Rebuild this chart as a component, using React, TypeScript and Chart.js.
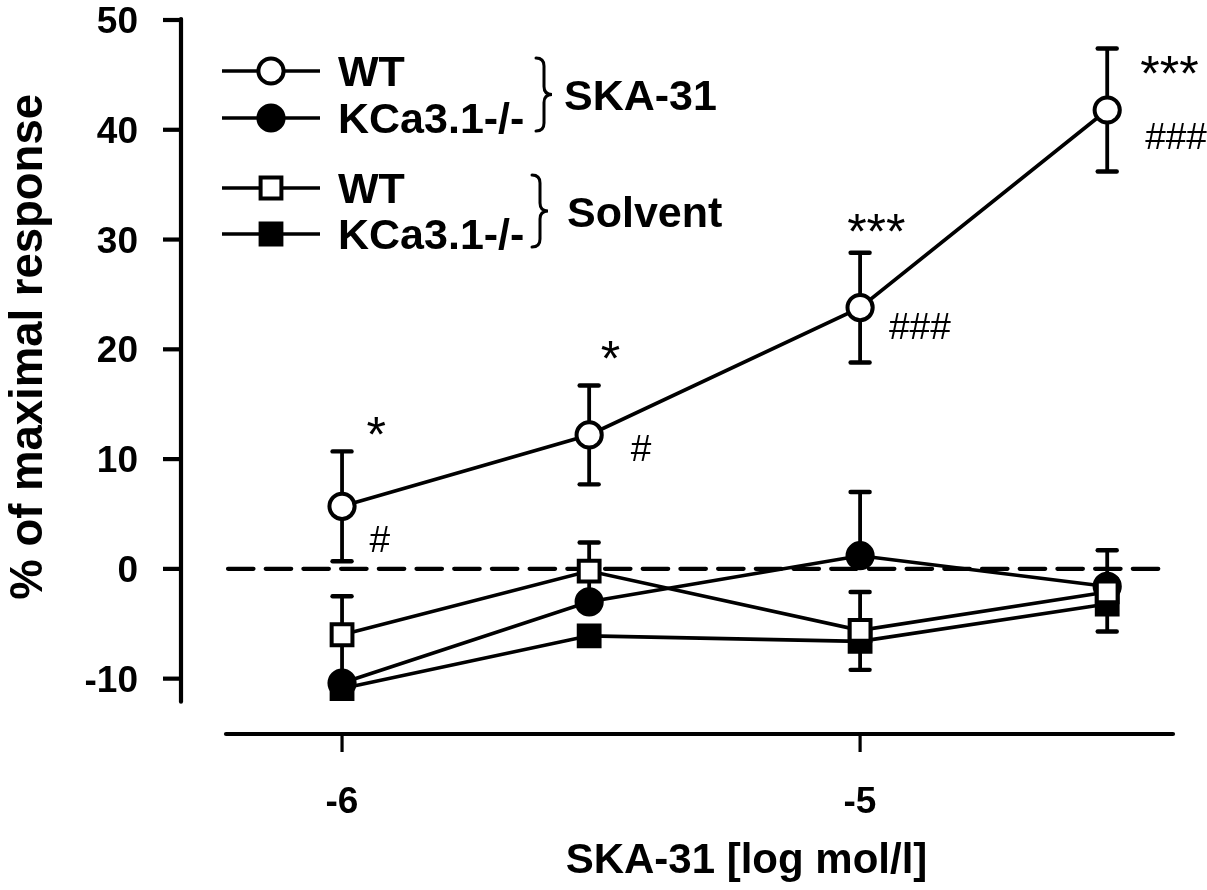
import React, { useEffect, useRef } from 'react';
import { Chart, registerables } from 'chart.js';

Chart.register(...registerables);

// SKA-31 concentrations (log mol/l): 1, 3, 10, 30 µmol/l
const doseLog = [-6, -5.523, -5, -4.523];

// Relaxation, % of maximal response (mean and SEM)
const wtSka = [5.7, 12.2, 23.8, 41.8];
const wtSkaSem = [5.0, 4.5, 5.0, 5.6];
const koSka = [-10.4, -3.0, 1.2, -1.6];
const koSkaSem = [3.5, 2.0, 5.8, 3.3];
const wtSolvent = [-6.0, -0.2, -5.6, -2.1];
const wtSolventSem = [3.5, 2.6, 3.5, 1.2];
const koSolvent = [-10.9, -6.1, -6.6, -3.2];
const koSolventSem = [0.8, 0.8, 2.6, 2.5];

// Significance marks for WT + SKA-31
const vsSolvent = ['*', '*', '***', '***'];
const vsKnockout = ['#', '#', '###', '###'];

const yTicks = [-10, 0, 10, 20, 30, 40, 50];
const xTicks = [-6, -5];

const FONT = "'Liberation Sans', Arial, sans-serif";

type ErrDir = 'up' | 'down' | 'both';

interface SeriesDef {
  label: string;
  values: number[];
  sem: number[];
  dir: ErrDir;
  shape: 'circle' | 'rect';
  filled: boolean;
}

const series: SeriesDef[] = [
  { label: 'WT', values: wtSka, sem: wtSkaSem, dir: 'both', shape: 'circle', filled: false },
  { label: 'WT', values: wtSolvent, sem: wtSolventSem, dir: 'up', shape: 'rect', filled: false },
  { label: 'KCa3.1-/-', values: koSka, sem: koSkaSem, dir: 'up', shape: 'circle', filled: true },
  { label: 'KCa3.1-/-', values: koSolvent, sem: koSolventSem, dir: 'down', shape: 'rect', filled: true },
];

// label offsets (px) from the WT + SKA-31 symbols
const starOffset = [[34, -80], [21, -85], [16, -85], [62, -45]];
const hashOffset = [[38, 33], [52, 13], [60, 18], [69, 26]];

const CIRCLE_R = 12.6;
const RECT_HALF = 10.4;
const MARKER_STROKE = 4;

function drawMarker(ctx: CanvasRenderingContext2D, x: number, y: number, shape: string, filled: boolean) {
  ctx.save();
  ctx.lineWidth = MARKER_STROKE;
  ctx.strokeStyle = '#000';
  ctx.fillStyle = filled ? '#000' : '#fff';
  ctx.beginPath();
  if (shape === 'circle') {
    ctx.arc(x, y, CIRCLE_R, 0, Math.PI * 2);
  } else {
    ctx.rect(x - RECT_HALF, y - RECT_HALF, RECT_HALF * 2, RECT_HALF * 2);
  }
  ctx.fill();
  ctx.stroke();
  ctx.restore();
}

function drawBrace(ctx: CanvasRenderingContext2D, x: number, top: number, bottom: number, w: number) {
  const mid = (top + bottom) / 2;
  const r = w / 2;
  ctx.save();
  ctx.lineWidth = 3;
  ctx.strokeStyle = '#000';
  ctx.lineCap = 'round';
  ctx.beginPath();
  ctx.moveTo(x, top);
  ctx.quadraticCurveTo(x + r, top, x + r, top + r);
  ctx.lineTo(x + r, mid - r);
  ctx.quadraticCurveTo(x + r, mid, x + w, mid);
  ctx.quadraticCurveTo(x + r, mid, x + r, mid + r);
  ctx.lineTo(x + r, bottom - r);
  ctx.quadraticCurveTo(x + r, bottom, x, bottom);
  ctx.stroke();
  ctx.restore();
}

// draws text with its inked box centred on (cx, cy)
function centeredText(ctx: CanvasRenderingContext2D, text: string, cx: number, cy: number) {
  ctx.textAlign = 'left';
  ctx.textBaseline = 'alphabetic';
  const m = ctx.measureText(text);
  const asc = m.actualBoundingBoxAscent;
  const desc = m.actualBoundingBoxDescent;
  const left = m.actualBoundingBoxLeft;
  const right = m.actualBoundingBoxRight;
  ctx.fillText(text, cx - (right - left) / 2, cy + (asc - desc) / 2);
}

// draws text left-aligned at x with its inked box vertically centred on cy
function leftText(ctx: CanvasRenderingContext2D, text: string, x: number, cy: number) {
  ctx.textAlign = 'left';
  ctx.textBaseline = 'alphabetic';
  const m = ctx.measureText(text);
  ctx.fillText(text, x, cy + (m.actualBoundingBoxAscent - m.actualBoundingBoxDescent) / 2);
}

const framePlugin = {
  id: 'frame',
  beforeDatasetsDraw(chart: any) {
    const ctx: CanvasRenderingContext2D = chart.ctx;
    const xs = chart.scales.x;
    const ys = chart.scales.y;
    const area = chart.chartArea;

    // zero reference line
    ctx.save();
    ctx.strokeStyle = '#000';
    ctx.lineWidth = 4.2;
    ctx.lineCap = 'round';
    ctx.setLineDash([25.5, 12.2]);
    ctx.beginPath();
    const y0 = ys.getPixelForValue(0);
    ctx.moveTo(area.left + 2, y0);
    ctx.lineTo(area.right - 3, y0);
    ctx.stroke();
    ctx.restore();

    // error bars
    ctx.save();
    ctx.strokeStyle = '#000';
    series.forEach((s) => {
      s.values.forEach((v, i) => {
        const x = xs.getPixelForValue(doseLog[i]);
        const yc = ys.getPixelForValue(v);
        const ends: number[] = [];
        if (s.dir !== 'down') ends.push(ys.getPixelForValue(v + s.sem[i]));
        if (s.dir !== 'up') ends.push(ys.getPixelForValue(v - s.sem[i]));
        ends.forEach((ye) => {
          ctx.lineWidth = 3.8;
          ctx.lineCap = 'butt';
          ctx.beginPath();
          ctx.moveTo(x, yc);
          ctx.lineTo(x, ye);
          ctx.stroke();
          ctx.lineWidth = 4.4;
          ctx.lineCap = 'round';
          ctx.beginPath();
          ctx.moveTo(x - 9.5, ye);
          ctx.lineTo(x + 9.5, ye);
          ctx.stroke();
        });
      });
    });
    ctx.restore();
  },
  afterDraw(chart: any) {
    const ctx: CanvasRenderingContext2D = chart.ctx;
    const xs = chart.scales.x;
    const ys = chart.scales.y;
    const area = chart.chartArea;

    ctx.save();
    ctx.strokeStyle = '#000';
    ctx.fillStyle = '#000';

    // y axis, set off to the left of the plot
    const yAxisX = area.left - 45;
    ctx.lineWidth = 4.2;
    ctx.lineCap = 'round';
    ctx.beginPath();
    ctx.moveTo(yAxisX, ys.getPixelForValue(ys.max) - 1);
    ctx.lineTo(yAxisX, area.bottom);
    ctx.stroke();
    ctx.lineCap = 'butt';
    ctx.font = `bold 37px ${FONT}`;
    yTicks.forEach((t) => {
      const py = ys.getPixelForValue(t);
      ctx.beginPath();
      ctx.moveTo(yAxisX - 18, py);
      ctx.lineTo(yAxisX + 2, py);
      ctx.stroke();
      const label = String(t);
      ctx.textAlign = 'right';
      ctx.textBaseline = 'alphabetic';
      const m = ctx.measureText(label);
      ctx.fillText(label, yAxisX - 43, py + (m.actualBoundingBoxAscent - m.actualBoundingBoxDescent) / 2);
    });

    // x axis, set off below the plot
    const xAxisY = area.bottom + 32.3;
    ctx.lineWidth = 4.2;
    ctx.lineCap = 'round';
    ctx.beginPath();
    ctx.moveTo(area.left, xAxisY);
    ctx.lineTo(area.right, xAxisY);
    ctx.stroke();
    ctx.lineCap = 'butt';
    ctx.lineWidth = 3.2;
    ctx.font = `bold 37px ${FONT}`;
    xTicks.forEach((t) => {
      const px = xs.getPixelForValue(t);
      ctx.beginPath();
      ctx.moveTo(px, xAxisY);
      ctx.lineTo(px, xAxisY + 18);
      ctx.stroke();
      centeredText(ctx, String(t), px, 800);
    });

    // axis titles
    ctx.font = `bold 42px ${FONT}`;
    centeredText(ctx, 'SKA-31 [log mol/l]', 746, 862);
    ctx.save();
    ctx.translate(30, 347);
    ctx.rotate(-Math.PI / 2);
    ctx.font = `bold 45.5px ${FONT}`;
    centeredText(ctx, '% of maximal response', 0, 0);
    ctx.restore();

    // significance marks
    const wtMeta = chart.getDatasetMeta(0);
    wtMeta.data.forEach((pt: any, i: number) => {
      ctx.font = `50px ${FONT}`;
      centeredText(ctx, vsSolvent[i], pt.x + starOffset[i][0], pt.y + starOffset[i][1]);
      ctx.font = `37px ${FONT}`;
      centeredText(ctx, vsKnockout[i], pt.x + hashOffset[i][0], pt.y + hashOffset[i][1]);
    });

    // legend
    const rows = [
      { s: series[0], y: 71 },
      { s: series[2], y: 118 },
      { s: series[1], y: 188 },
      { s: series[3], y: 234 },
    ];
    rows.forEach(({ s, y }) => {
      ctx.lineWidth = 3.6;
      ctx.lineCap = 'butt';
      ctx.beginPath();
      ctx.moveTo(222, y);
      ctx.lineTo(320, y);
      ctx.stroke();
      drawMarker(ctx, 271, y, s.shape, s.filled);
      ctx.fillStyle = '#000';
      ctx.font = `bold 43px ${FONT}`;
      leftText(ctx, s.label, 338, y);
    });
    drawBrace(ctx, 536, 58, 131, 16);
    drawBrace(ctx, 532, 175, 247, 16);
    ctx.font = `bold 43px ${FONT}`;
    leftText(ctx, 'SKA-31', 564, 95);
    leftText(ctx, 'Solvent', 567, 211);

    ctx.restore();
  },
};

export default function App() {
  const canvasRef = useRef<HTMLCanvasElement | null>(null);

  useEffect(() => {
    if (!canvasRef.current) return;
    const datasets = series.map((s) => ({
      label: s.label,
      data: s.values.map((v, i) => ({ x: doseLog[i], y: v })),
      borderColor: '#000',
      borderWidth: 3.6,
      pointStyle: s.shape,
      pointRadius: s.shape === 'circle' ? CIRCLE_R : RECT_HALF / Math.SQRT1_2,
      pointBorderWidth: MARKER_STROKE,
      pointBorderColor: '#000',
      pointBackgroundColor: s.filled ? '#000' : '#fff',
      tension: 0,
      clip: false as const,
    }));
    const chart = new Chart(canvasRef.current, {
      type: 'line',
      data: { datasets },
      options: {
        animation: false,
        responsive: true,
        maintainAspectRatio: false,
        layout: { padding: { left: 226, top: 20, right: 34, bottom: 188.3 } },
        plugins: { legend: { display: false }, tooltip: { enabled: false } },
        scales: {
          x: { type: 'linear', min: -6.224, max: -4.396, display: false },
          y: { type: 'linear', min: -12.1, max: 50, display: false },
        },
      },
      plugins: [framePlugin],
    });
    return () => chart.destroy();
  }, []);

  return (
    <div style={{ position: 'fixed', left: 0, top: 0, width: 1207, height: 890, background: '#fff' }}>
      <canvas ref={canvasRef} />
    </div>
  );
}
